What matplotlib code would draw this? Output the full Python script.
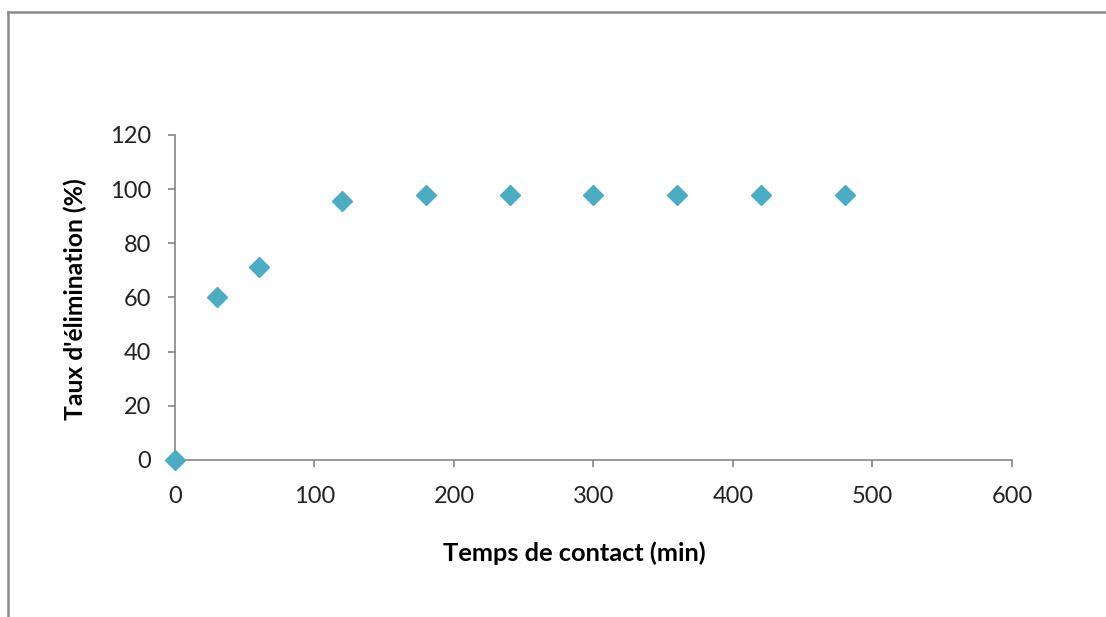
import matplotlib
matplotlib.use('Agg')
import matplotlib.pyplot as plt
from matplotlib.lines import Line2D

# contact time (min) vs removal rate (%)
temps = [0, 30, 60, 120, 180, 240, 300, 360, 420, 480]
taux = [0, 60.2, 71.3, 95.7, 98, 98, 98, 98, 98, 98]
xticks = [0, 100, 200, 300, 400, 500, 600]
yticks = [0, 20, 40, 60, 80, 100, 120]

plt.rcParams['font.family'] = ['Lato', 'DejaVu Sans']

fig = plt.figure(figsize=(11.06, 6.17), dpi=100)
ax = fig.add_axes([0.1582, 0.2545, 0.915 - 0.1582, 0.7812 - 0.2545])

ax.plot(temps, taux, linestyle='none', marker='D', markersize=10, color='#4BACC6', clip_on=False, zorder=5)

ax.set_xlim(0, 600)
ax.set_ylim(0, 120)
ax.set_xticks(xticks)
ax.set_yticks(yticks)

gray = '#868686'
for s in ['top', 'right']:
    ax.spines[s].set_visible(False)
for s in ['left', 'bottom']:
    ax.spines[s].set_color(gray)
    ax.spines[s].set_linewidth(1.2)
ax.tick_params(axis='both', direction='out', length=5, width=1.2, color=gray, labelsize=17, labelcolor='#222222')
ax.tick_params(axis='x', pad=14)
ax.tick_params(axis='y', pad=12)

ax.set_xlabel('Temps de contact (min)', fontsize=18.3, fontweight='bold', va='center')
ax.set_ylabel("Taux d'élimination (%)", fontsize=17.8, fontweight='bold', va='center')
ax.xaxis.set_label_coords(0.477, -0.286)
ax.yaxis.set_label_coords(-0.1195, 0.495)

# outer chart frame (top and left edges visible)
W, H = 1106, 617
fig.add_artist(Line2D([8 / W, 1], [1 - 12 / H, 1 - 12 / H], color='#8a8a8a', linewidth=1.8))
fig.add_artist(Line2D([8 / W, 8 / W], [0, 1 - 12 / H], color='#8a8a8a', linewidth=1.8))

fig.savefig('out.png', dpi=100)
